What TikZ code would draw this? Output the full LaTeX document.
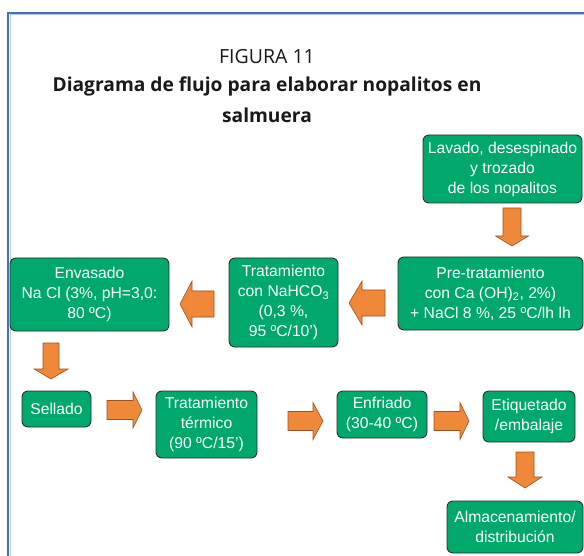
\documentclass[tikz,border=0pt]{standalone}
\usepackage{fontspec}
\setmainfont{Liberation Sans}
\newfontfamily\titlefont{Open Sans}
\definecolor{boxgreen}{HTML}{00A86B}
\definecolor{boxline}{HTML}{2E2E2E}
\definecolor{arrfill}{HTML}{F0883A}
\definecolor{arrline}{HTML}{9A5424}
\definecolor{framecol}{HTML}{4A6FB0}
\definecolor{framelight}{HTML}{B9CBEA}
\tikzset{
  stepbox/.style={draw=boxline, line width=0.9pt, fill=boxgreen, rounded corners=6pt,
    text=white, font=\fontsize{15.7}{20}\selectfont, align=center, inner sep=0pt},
  barrow/.style={fill=arrfill, draw=arrline, line width=0.6pt, line join=miter},
  titletext/.style={text=black!90, inner sep=0pt},
}
\newcommand\hbarrow[6]{% xs, xe, yc, shaft half, head half, signed head length
  \pgfmathsetmacro\xh{#2-(#6)}
  \draw[barrow] (#1,#3-#4) -- (\xh,#3-#4) -- (\xh,#3-#5) -- (#2,#3) -- (\xh,#3+#5) -- (\xh,#3+#4) -- (#1,#3+#4) -- cycle;}
\newcommand\vbarrow[6]{% ys, ye, xc, shaft half, head half, signed head length
  \pgfmathsetmacro\yh{#2-(#6)}
  \draw[barrow] (#3-#4,#1) -- (#3-#4,\yh) -- (#3-#5,\yh) -- (#3,#2) -- (#3+#5,\yh) -- (#3+#4,\yh) -- (#3+#4,#1) -- cycle;}
\begin{document}
\begin{tikzpicture}[x=1pt,y=-1pt]
\useasboundingbox (0,0) rectangle (584,556);
\fill[white] (0,0) rectangle (584,556);
% frame
\draw[framelight, line width=1pt] (10,560) -- (10,15) -- (590,15);
\draw[framecol, line width=2pt] (8,560) -- (8,13) -- (590,13);
% title
\node[titletext, font=\titlefont\fontsize{19.5}{23}\selectfont] (t1) at (267,57) {FIGURA 11};
\node[titletext, font=\titlefont\bfseries\fontsize{19.2}{23}\selectfont] (t2) at (267,86) {Diagrama de flujo para elaborar nopalitos en};
\node[titletext, font=\titlefont\bfseries\fontsize{19.2}{23}\selectfont] (t3) at (267,115) {salmuera};
% boxes
\node[stepbox, minimum width=159pt, minimum height=68pt] (lav) at (502.5,169) {Lavado, desespinado\\y trozado\\de los nopalitos};
\node[stepbox, minimum width=185pt, minimum height=73pt] (pre) at (490.5,293.5) {Pre-tratamiento\\con Ca (OH)\textsubscript{2}, 2\%)\\+ NaCl 8 \%, 25 ºC/lh lh};
\node[stepbox, minimum width=109pt, minimum height=89pt] (tna) at (283.5,302.5) {Tratamiento\\con NaHCO\textsubscript{3}\\(0,3 \%,\\95 ºC/10’)};
\node[stepbox, minimum width=159pt, minimum height=73pt] (env) at (89.5,294.5) {Envasado\\Na Cl (3\%, pH=3,0:\\80 ºC)};
\node[stepbox, minimum width=69pt, minimum height=36pt] (sel) at (56.5,409) {Sellado};
\node[stepbox, minimum width=101pt, minimum height=67pt] (ter) at (206.5,424.5) {Tratamiento\\térmico\\(90 ºC/15’)};
\node[stepbox, minimum width=90pt, minimum height=47pt] (enf) at (382,414.5) {Enfriado\\(30-40 ºC)};
\node[stepbox, minimum width=92pt, minimum height=51pt] (eti) at (529,416.5) {Etiquetado\\/embalaje};
\node[stepbox, minimum width=136pt, minimum height=52pt] (alm) at (515,527) {Almacenamiento/\\distribución};
% block arrows
\vbarrow{208}{246}{512}{9}{16.5}{10}
\hbarrow{385}{349}{303}{13}{22}{-13}
\hbarrow{214}{180}{304}{13}{23}{-12}
\vbarrow{343}{379}{51}{8}{17}{10}
\hbarrow{107}{142}{410}{9.5}{18}{9}
\hbarrow{288}{323}{421}{9.5}{18.5}{10}
\hbarrow{434}{469}{421}{9.5}{18.5}{9}
\vbarrow{452}{488}{525}{9}{17}{11}
\end{tikzpicture}
\end{document}
